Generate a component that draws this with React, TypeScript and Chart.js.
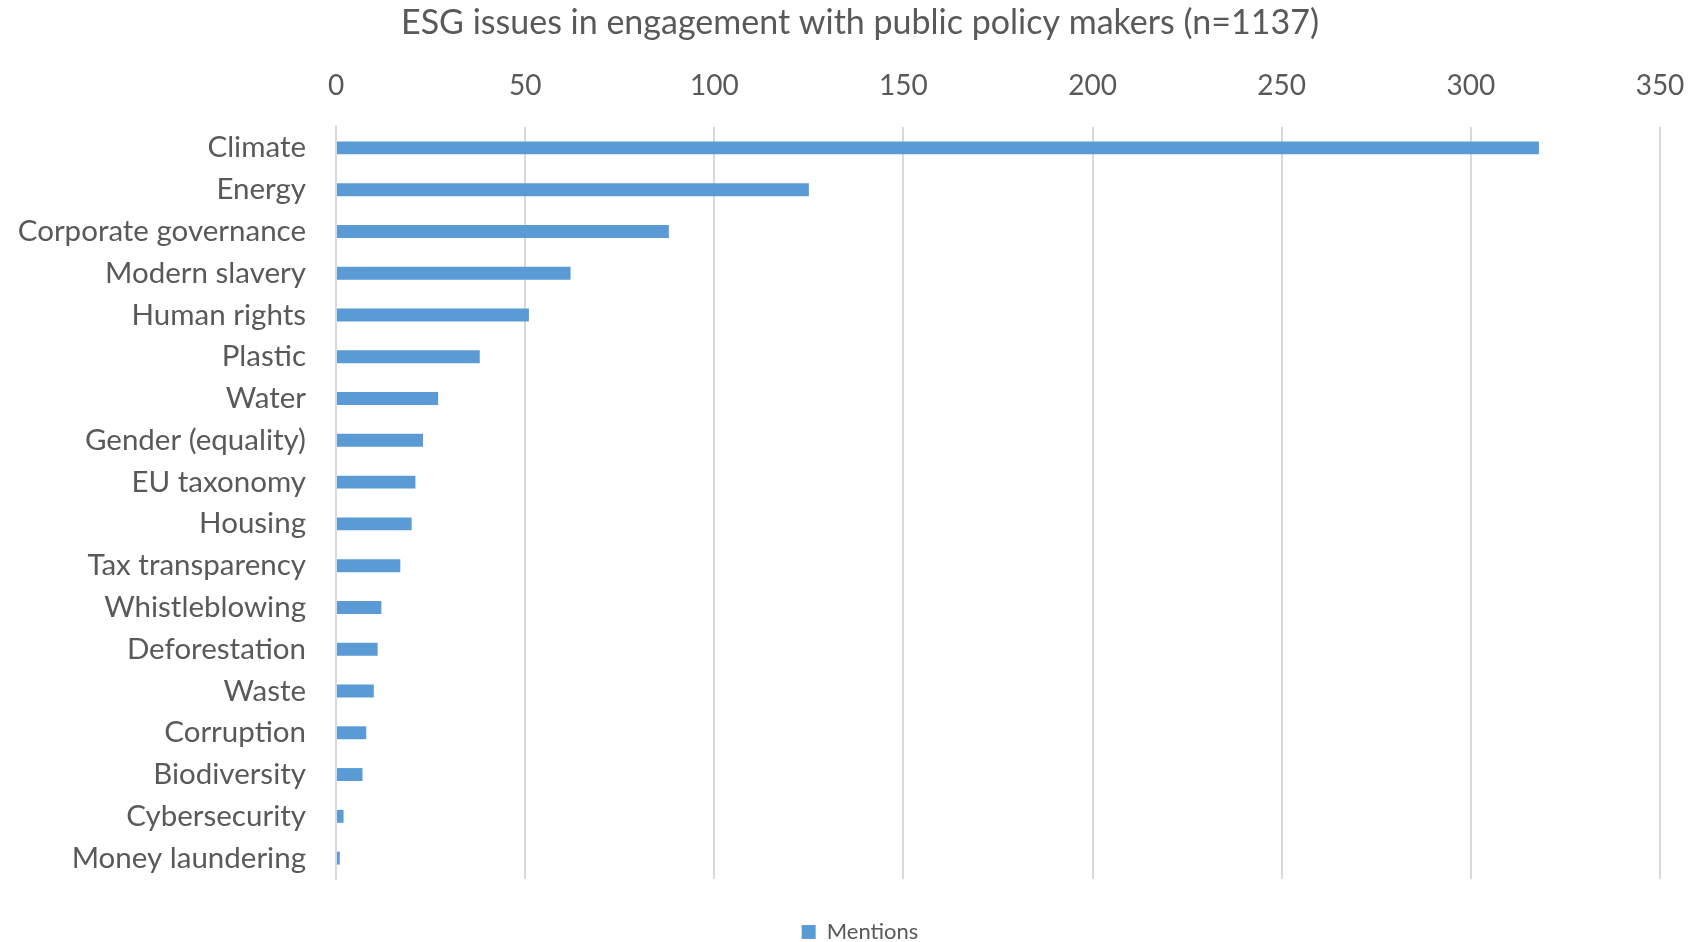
import { useEffect, useRef } from "react";
import { Chart, registerables } from "chart.js";

Chart.register(...registerables);

const categories = [
  "Climate",
  "Energy",
  "Corporate governance",
  "Modern slavery",
  "Human rights",
  "Plastic",
  "Water",
  "Gender (equality)",
  "EU taxonomy",
  "Housing",
  "Tax transparency",
  "Whistleblowing",
  "Deforestation",
  "Waste",
  "Corruption",
  "Biodiversity",
  "Cybersecurity",
  "Money laundering",
];

const mentions = [318, 125, 88, 62, 51, 38, 27, 23, 21, 20, 17, 12, 11, 10, 8, 7, 2, 1];

const xMin = 0;
const xMax = 350;
const xStep = 50;

const titleText = "ESG issues in engagement with public policy makers (n=1137)";
const seriesLabel = "Mentions";

const TEXT = "#595959";
const GRID = "#D9D9D9";
const BAR = "#5B9BD5";
const FONT = "Lato";

// lets the category labels use the room left of the y scale box
const labelRoom = {
  id: "labelRoom",
  afterLayout(chart: any) {
    const y = chart.scales.y;
    if (y) y.left = 0;
  },
};

export default function App() {
  const ref = useRef<HTMLCanvasElement>(null);

  useEffect(() => {
    const chart = new Chart(ref.current as HTMLCanvasElement, {
      type: "bar",
      data: {
        labels: categories,
        datasets: [
          {
            label: seriesLabel,
            data: mentions,
            backgroundColor: BAR,
            borderWidth: 0,
            categoryPercentage: 1,
            barPercentage: 0.31,
          },
        ],
      },
      options: {
        indexAxis: "y",
        responsive: false,
        animation: false,
        layout: { padding: { left: 60, right: 38, top: 0, bottom: -11 } },
        plugins: {
          title: {
            display: true,
            text: titleText,
            color: TEXT,
            font: { family: FONT, size: 34, weight: "normal" },
            padding: { top: 3, bottom: 4 },
          },
          legend: {
            position: "bottom",
            labels: {
              boxWidth: 14,
              boxHeight: 14,
              color: TEXT,
              font: { family: FONT, size: 22 },
              padding: 42,
            },
          },
          tooltip: { enabled: false },
        },
        scales: {
          x: {
            position: "top",
            min: xMin,
            max: xMax,
            ticks: {
              stepSize: xStep,
              color: TEXT,
              font: { family: FONT, size: 28, lineHeight: 2.96 },
              padding: 0,
            },
            grid: { color: GRID, lineWidth: 2, drawTicks: false },
            border: { display: false },
            afterFit: (s: any) => {
              s.height = 79.2;
            },
          },
          y: {
            ticks: {
              color: TEXT,
              font: { family: FONT, size: 29.5 },
              padding: 30,
            },
            grid: { display: false, drawTicks: false },
            border: { display: true, color: GRID, width: 2 },
            afterFit: (s: any) => {
              s.width = 276;
            },
          },
        },
      },
      plugins: [labelRoom],
    });
    return () => chart.destroy();
  }, []);

  return (
    <canvas
      ref={ref}
      width={1698}
      height={942}
      style={{ position: "absolute", left: 0, top: 0, display: "block" }}
    />
  );
}
